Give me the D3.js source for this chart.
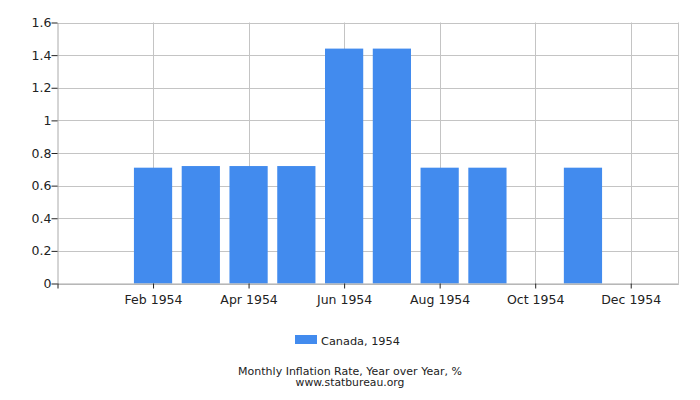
<!DOCTYPE html>
<html lang="en">
  <head>
    <meta charset="UTF-8" />
    <title>Monthly Inflation Rate, Canada 1954</title>
    <script src="https://d3js.org/d3.v7.min.js"></script>
    <style>
      body {
        margin: 0;
        background: #fff;
      }
      text {
        font-family: "DejaVu Sans", sans-serif;
        fill: #222;
      }
      .grid line {
        stroke: #c4c4c4;
        stroke-width: 1;
      }
    </style>
  </head>
  <body>
    <svg width="700" height="400"></svg>
    <script>
      // Data
      var months = ["Jan", "Feb", "Mar", "Apr", "May", "Jun", "Jul", "Aug", "Sep", "Oct", "Nov", "Dec"];
      var values = [0, 0.71, 0.72, 0.72, 0.72, 1.44, 1.44, 0.71, 0.71, 0, 0.71, 0];
      var yTicks = [0, 0.2, 0.4, 0.6, 0.8, 1, 1.2, 1.4, 1.6];
      var seriesName = "Canada, 1954";
      var year = 1954;

      var svg = d3.select("svg");
      var plotL = 57.5, plotR = 678.5, plotT = 22.5, plotB = 283.5;

      // month index 1..12, one empty slot at each end
      var x = d3.scaleLinear().domain([0, 13]).range([plotL, plotR]);
      var y = d3.scaleLinear().domain([0, 1.6]).range([plotB, plotT]);
      var step = x(1) - x(0);
      var barW = step * 0.8;

      var labelMonths = [2, 4, 6, 8, 10, 12];

      // Grid
      var grid = svg.append("g").attr("class", "grid");
      grid.selectAll(".h")
        .data(yTicks)
        .enter()
        .append("line")
        .attr("x1", plotL)
        .attr("x2", plotR)
        .attr("y1", function (d) { return Math.round(y(d)) + 0.5; })
        .attr("y2", function (d) { return Math.round(y(d)) + 0.5; });
      grid.selectAll(".v")
        .data(labelMonths)
        .enter()
        .append("line")
        .attr("x1", function (d) { return Math.round(x(d)) + 0.5; })
        .attr("x2", function (d) { return Math.round(x(d)) + 0.5; })
        .attr("y1", plotT)
        .attr("y2", plotB);
      grid.append("line")
        .attr("x1", plotR).attr("x2", plotR)
        .attr("y1", plotT).attr("y2", plotB);

      // Bars
      svg.append("g")
        .selectAll("rect")
        .data(values.map(function (v, i) { return { m: i + 1, v: v }; }))
        .enter()
        .append("rect")
        .attr("x", function (d) { return x(d.m) - barW / 2; })
        .attr("width", barW)
        .attr("y", function (d) { return y(d.v); })
        .attr("height", function (d) { return y(0) - y(d.v); })
        .attr("fill", "#428bee");

      // Axes
      var yAxis = d3.axisLeft(y)
        .tickValues(yTicks)
        .tickSize(6)
        .tickSizeOuter(0)
        .tickFormat(function (d) { return d3.format("")(d); });
      var gy = svg.append("g")
        .attr("transform", "translate(" + plotL + ",0)")
        .call(yAxis);
      gy.select(".domain").attr("stroke", "#aaa");
      gy.selectAll(".tick line").attr("stroke", "#222");
      gy.selectAll(".tick text")
        .attr("x", -6)
        .style("font-size", "12.5px")
        .style("font-family", "DejaVu Sans");

      var xAxis = d3.axisBottom(x)
        .tickValues([0].concat(labelMonths))
        .tickSize(5)
        .tickSizeOuter(0)
        .tickFormat(function (d) { return d === 0 ? "" : months[d - 1] + " " + year; });
      var gx = svg.append("g")
        .attr("transform", "translate(0," + plotB + ")")
        .call(xAxis);
      gx.select(".domain").attr("stroke", "#aaa");
      gx.selectAll(".tick line").attr("stroke", "#222");
      gx.selectAll(".tick text")
        .attr("y", 12)
        .attr("dy", "0.71em")
        .style("font-size", "12.5px")
        .style("font-family", "DejaVu Sans");

      // Legend
      var legend = svg.append("g");
      legend.append("rect")
        .attr("x", 295)
        .attr("y", 335)
        .attr("width", 22)
        .attr("height", 9)
        .attr("fill", "#428bee");
      legend.append("text")
        .attr("x", 321)
        .attr("y", 345)
        .style("font-size", "11.3px")
        .text(seriesName);

      // Title
      svg.append("text")
        .attr("x", 350)
        .attr("y", 374.5)
        .attr("text-anchor", "middle")
        .style("font-size", "11px")
        .text("Monthly Inflation Rate, Year over Year, %");
      svg.append("text")
        .attr("x", 350)
        .attr("y", 386)
        .attr("text-anchor", "middle")
        .style("font-size", "10.8px")
        .text("www.statbureau.org");
    </script>
  </body>
</html>
